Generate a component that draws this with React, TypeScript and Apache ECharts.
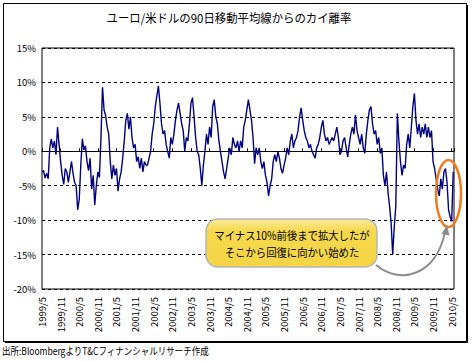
import React, { useEffect, useRef } from 'react';
import * as echarts from 'echarts';

// x axis: months since 1999/5, one value every half month
const tickLabels = [
  '1999/5', '1999/11', '2000/5', '2000/11', '2001/5', '2001/11', '2002/5', '2002/11',
  '2003/5', '2003/11', '2004/5', '2004/11', '2005/5', '2005/11', '2006/5', '2006/11',
  '2007/5', '2007/11', '2008/5', '2008/11', '2009/5', '2009/11', '2010/5',
];
const stepMonths = 0.5;
const axisEndMonths = 132.75;

// deviation from 90-day moving average (%), half-month steps from 1999/5
const deviation1999to2002 = [
  -3.0, -2.8, -3.9, -3.2, -4.0, 0.5, 1.8, 0.5, 1.5, -0.5, 3.5, 1.0,
  -1.5, -3.5, -4.8, -2.5, -3.0, -4.5, -3.0, -1.5, -3.2, -4.5, -5.0, -8.5,
  -7.0, -2.0, 1.8, 0.2, 0.8, -1.5, -2.8, -1.0, -5.5, -3.5, -7.8, -5.0,
  -3.0, -3.8, 2.0, 9.3, 6.0, 5.2, 3.5, 2.5, -1.5, -4.0, -2.0, -3.5,
  -2.5, -5.8, -4.0, -3.0, -1.0, 1.5, 4.5, 5.5, 3.2, 5.0, 2.0, 0.5,
  1.0, -1.5, -0.8, -2.5, -1.0, -3.0, -1.5, -2.0,
];
const deviation2002to2005 = [
  -2.0, -1.0, 0.0, 2.5, 4.0, 6.5, 8.0, 9.5, 7.0, 4.0, 2.5, 3.0,
  1.0, 0.0, -1.0, 2.0, 1.0, 2.5, 4.5, 6.0, 7.0, 5.5, 4.0, 3.0,
  0.0, 2.0, 1.5, 4.0, 7.0, 7.8, 5.0, 2.0, 0.0, -0.5, -2.5, -5.0,
  -2.0, 0.0, 2.5, 1.0, 3.5, 2.0, 6.5, 7.5, 5.0, 4.0, 1.5, 0.0,
  -1.5, -3.0, -4.0, -2.5, -1.0, 0.5, -0.5, 2.0, 1.0, 0.5, 1.5, 0.0,
  1.5, 0.5, 3.5, 4.5, 6.0, 7.5,
];
const deviation2005to2007 = [
  6.0, 4.5, 2.0, -1.8, 0.5, -0.5, 0.5, -1.5, -2.5, -1.5, -3.5, -4.5,
  -6.5, -5.0, -4.0, -1.5, -0.5, -1.5, 0.0, -1.0, -2.5, -3.2, -2.0, -1.0,
  0.5, -0.5, 1.5, 2.5, 0.5, 1.5, 2.0, 3.0, 5.0, 6.3, 4.5, 3.0,
  2.0, 1.5, 0.5, 1.0, 0.0, -0.5, -1.0, 0.5, 1.0, 2.0, 3.5, 4.5,
  2.5, 1.5, 2.0, 1.0, 1.5, 2.0, 1.5, 2.5, 3.5, 2.0, -0.5, 0.0,
  1.5, 2.0, 0.5, -0.8, 1.0, 2.5,
];
const deviation2007to2010 = [
  3.5, 2.5, 5.3, 3.0, 2.0, 1.0, 2.5, 0.5, -0.3, 2.5, 4.5, 6.0,
  6.5, 4.0, 2.5, 3.0, 1.0, 2.0, -0.3, 0.5, -3.5, -5.0, -3.0, -6.0,
  -8.0, -10.5, -15.0, -11.0, -8.0, 5.5, 1.5, -1.5, -3.5, -2.0, -2.5, 1.0,
  2.5, 0.5, 3.5, 6.5, 8.4, 4.5, 2.5, 4.0, 2.0, 3.5, 2.5, 4.0,
  2.0, 3.5, 2.0, 3.0, -1.5, -2.5, -4.0, -5.5, -6.5, -4.0, -5.5, -3.0,
  -2.5, -4.5, -8.5, -9.5, -10.2, -3.0,
];
const deviation = [
  ...deviation1999to2002, ...deviation2002to2005, ...deviation2005to2007, ...deviation2007to2010,
];

const titleText = 'ユーロ/米ドルの90日移動平均線からのカイ離率';
const sourceText = '出所:BloombergよりT&Cフィナンシャルリサーチ作成';
const noteLines = ['マイナス10%前後まで拡大したが', 'そこから回復に向かい始めた'];

export default function App() {
  const ref = useRef<HTMLDivElement>(null);
  useEffect(() => {
    const chart = echarts.init(ref.current!, null, { renderer: 'svg', width: 472, height: 362 });
    const font = '"Noto Sans CJK JP", "Noto Sans", sans-serif';
    const data = deviation.map((v, i) => [i * stepMonths, v]);
    chart.setOption({
      animation: false,
      backgroundColor: '#ffffff',
      grid: {
        left: 42, right: 18, top: 48, bottom: 73, show: true,
        borderColor: '#000', borderWidth: 1, backgroundColor: 'transparent',
      },
      xAxis: [
        {
          type: 'value', min: 0, max: axisEndMonths, interval: 6, position: 'bottom',
          axisLine: { onZero: true, lineStyle: { color: '#000', width: 1 } },
          axisTick: { show: true, inside: true, length: 3, lineStyle: { color: '#000' } },
          axisLabel: { show: false }, splitLine: { show: false },
        },
        {
          type: 'value', min: 0, max: axisEndMonths, interval: 6, position: 'bottom',
          axisLine: { show: false, onZero: false }, axisTick: { show: false }, splitLine: { show: false },
          axisLabel: {
            rotate: 90, margin: 8, fontSize: 9.5, color: '#000', fontFamily: font,
            formatter: (v: number) => (Math.abs(v % 6) < 1e-6 ? tickLabels[Math.round(v / 6)] ?? '' : ''),
          },
        },
      ],
      yAxis: {
        type: 'value', min: -20, max: 15, interval: 5,
        axisLine: { show: false }, axisTick: { show: false },
        axisLabel: { formatter: '{value}%', margin: 6, fontSize: 9.5, color: '#000', fontFamily: font },
        splitLine: { show: true, lineStyle: { color: '#000', type: [3, 3], width: 1 } },
      },
      series: [
        {
          type: 'line', xAxisIndex: 0, data, showSymbol: false, symbol: 'none',
          lineStyle: { color: '#000080', width: 1.4 }, z: 3,
        },
      ],
      graphic: [
        { type: 'rect', silent: true, shape: { x: 3.5, y: 3.5, width: 463, height: 338 }, style: { fill: 'none', stroke: '#000', lineWidth: 1 } },
        { type: 'line', silent: true, shape: { x1: 467.5, y1: 5, x2: 467.5, y2: 342.5 }, style: { stroke: '#000', lineWidth: 1 } },
        { type: 'line', silent: true, shape: { x1: 5, y1: 342.5, x2: 467.5, y2: 342.5 }, style: { stroke: '#000', lineWidth: 1 } },
        { type: 'text', silent: true, x: 229, y: 17, scaleX: 0.95, style: { text: titleText, fontSize: 12, fontFamily: font, fill: '#000', align: 'center', verticalAlign: 'middle' } },
        { type: 'text', silent: true, x: 2, y: 351, scaleX: 0.85, style: { text: sourceText, fontSize: 10, fontFamily: font, fill: '#000', align: 'left', verticalAlign: 'middle' } },
        {
          type: 'rect', silent: true, z: 10,
          shape: { x: 206, y: 219, width: 171, height: 48, r: 12 },
          style: {
            fill: new echarts.graphic.LinearGradient(0, 0, 0, 1, [
              { offset: 0, color: '#FBEA9C' }, { offset: 0.25, color: '#F6D94E' }, { offset: 1, color: '#F4D444' },
            ]),
            stroke: '#B5B5B5', lineWidth: 1.5,
          },
        },
        { type: 'text', silent: true, z: 11, x: 292, y: 235, scaleX: 0.9, style: { text: noteLines[0], fontSize: 11.5, fontFamily: font, fill: '#000', align: 'center', verticalAlign: 'middle' } },
        { type: 'text', silent: true, z: 11, x: 292, y: 252, scaleX: 0.9, style: { text: noteLines[1], fontSize: 11.5, fontFamily: font, fill: '#000', align: 'center', verticalAlign: 'middle' } },
        { type: 'ellipse', silent: true, z: 10, shape: { cx: 448.5, cy: 193.5, rx: 12.5, ry: 33.5 }, style: { fill: 'none', stroke: '#F07A1E', lineWidth: 2.5 } },
        {
          type: 'bezierCurve', silent: true, z: 10,
          shape: { x1: 376, y1: 265, cpx1: 400, cpy1: 285, cpx2: 436, cpy2: 276, x2: 445, y2: 232 },
          style: { stroke: '#8C8C8C', lineWidth: 2, fill: 'none' },
        },
        {
          type: 'polygon', silent: true, z: 10,
          shape: { points: [[447, 225], [449.5, 235.5], [441.5, 234]] },
          style: { fill: '#8C8C8C' },
        },
      ],
    });
    return () => chart.dispose();
  }, []);
  return <div ref={ref} style={{ position: 'fixed', left: 0, top: 0, width: 472, height: 362 }} />;
}
